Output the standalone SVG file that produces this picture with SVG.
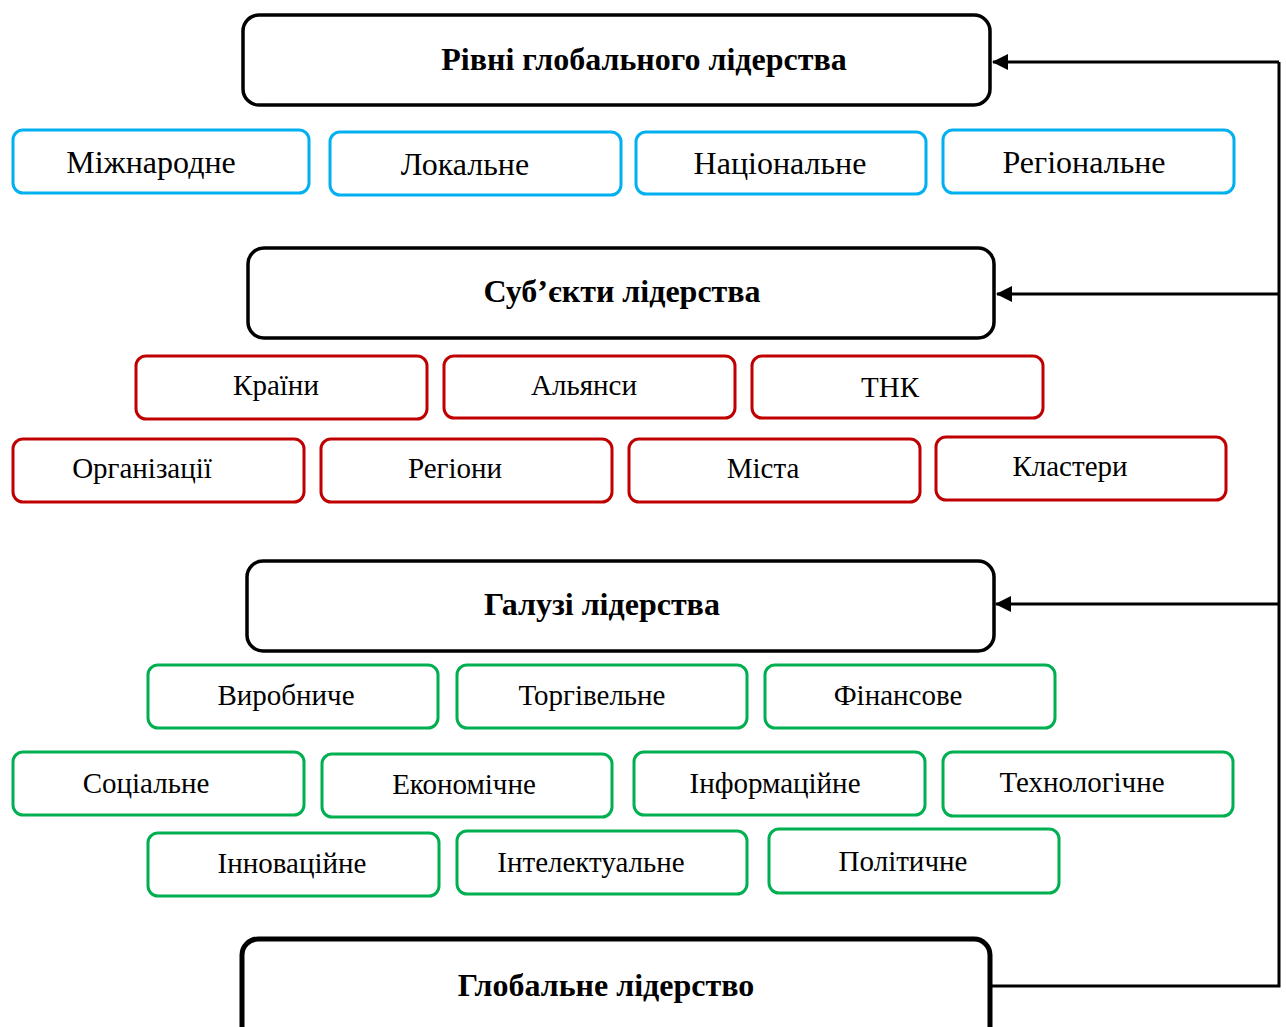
<svg xmlns="http://www.w3.org/2000/svg" width="1286" height="1027" viewBox="0 0 1286 1027">
<defs>
<style>
.hd{fill:#fff;stroke:#000;stroke-width:3.5}
.bl{fill:#fff;stroke:#00B0F0;stroke-width:3}
.rd{fill:#fff;stroke:#C00000;stroke-width:3}
.gr{fill:#fff;stroke:#00B050;stroke-width:3}
text{font-family:"Liberation Serif","Times New Roman",serif;fill:#000;text-anchor:middle}
.ht{font-size:32px;font-weight:bold}
.bt{font-size:32px}
.st{font-size:29px}
.cn{fill:none;stroke:#000;stroke-width:3}
</style>
<marker id="ah" viewBox="0 0 16 16" refX="15" refY="8" markerWidth="16" markerHeight="16" markerUnits="userSpaceOnUse" orient="auto">
<path d="M0,0 L16,8 L0,16 Z" fill="#000"/>
</marker>
</defs>
<rect width="1286" height="1027" fill="#fff"/>
<g id="connectors">
<polyline class="cn" points="990,986 1279,986 1279,62"/>
<line class="cn" x1="1279" y1="62" x2="993" y2="62" marker-end="url(#ah)"/>
<line class="cn" x1="1279" y1="294" x2="997" y2="294" marker-end="url(#ah)"/>
<line class="cn" x1="1279" y1="604" x2="996" y2="604" marker-end="url(#ah)"/>
</g>
<g id="levels"><rect class="hd" x="243" y="15" width="747" height="90" rx="16"/><text class="ht" x="644" y="70">Рівні глобального лідерства</text></g>
<g id="l1"><rect class="bl" x="13" y="130" width="296" height="63" rx="10"/><text class="bt" x="151" y="173">Міжнародне</text></g>
<g id="l2"><rect class="bl" x="330" y="132" width="291" height="63" rx="10"/><text class="bt" x="465" y="175">Локальне</text></g>
<g id="l3"><rect class="bl" x="636" y="132" width="290" height="62" rx="10"/><text class="bt" x="780" y="174">Національне</text></g>
<g id="l4"><rect class="bl" x="943" y="130" width="291" height="63" rx="10"/><text class="bt" x="1084" y="173">Регіональне</text></g>
<g id="subjects"><rect class="hd" x="248" y="248" width="746" height="90" rx="16"/><text class="ht" x="622" y="302">Суб’єкти лідерства</text></g>
<g id="s1"><rect class="rd" x="136" y="356" width="291" height="63" rx="10"/><text class="st" x="276" y="395">Країни</text></g>
<g id="s2"><rect class="rd" x="444" y="356" width="291" height="62" rx="10"/><text class="st" x="584" y="395">Альянси</text></g>
<g id="s3"><rect class="rd" x="752" y="356" width="291" height="62" rx="10"/><text class="st" x="890" y="397">ТНК</text></g>
<g id="s4"><rect class="rd" x="13" y="439" width="291" height="63" rx="10"/><text class="st" x="142" y="478">Організації</text></g>
<g id="s5"><rect class="rd" x="321" y="439" width="291" height="63" rx="10"/><text class="st" x="455" y="478">Регіони</text></g>
<g id="s6"><rect class="rd" x="629" y="439" width="291" height="63" rx="10"/><text class="st" x="763" y="478">Міста</text></g>
<g id="s7"><rect class="rd" x="936" y="437" width="290" height="63" rx="10"/><text class="st" x="1070" y="476">Кластери</text></g>
<g id="fields"><rect class="hd" x="247" y="561" width="747" height="90" rx="16"/><text class="ht" x="602" y="615">Галузі лідерства</text></g>
<g id="f1"><rect class="gr" x="148" y="665" width="290" height="63" rx="10"/><text class="st" x="286" y="705">Виробниче</text></g>
<g id="f2"><rect class="gr" x="457" y="665" width="290" height="63" rx="10"/><text class="st" x="592" y="705">Торгівельне</text></g>
<g id="f3"><rect class="gr" x="765" y="665" width="290" height="63" rx="10"/><text class="st" x="898" y="705">Фінансове</text></g>
<g id="f4"><rect class="gr" x="13" y="752" width="291" height="63" rx="10"/><text class="st" x="146" y="793">Соціальне</text></g>
<g id="f5"><rect class="gr" x="322" y="754" width="290" height="63" rx="10"/><text class="st" x="464" y="794">Економічне</text></g>
<g id="f6"><rect class="gr" x="634" y="752" width="291" height="63" rx="10"/><text class="st" x="775" y="793">Інформаційне</text></g>
<g id="f7"><rect class="gr" x="943" y="752" width="290" height="64" rx="10"/><text class="st" x="1082" y="792">Технологічне</text></g>
<g id="f8"><rect class="gr" x="148" y="833" width="291" height="63" rx="10"/><text class="st" x="292" y="873">Інноваційне</text></g>
<g id="f9"><rect class="gr" x="457" y="831" width="290" height="63" rx="10"/><text class="st" x="591" y="872">Інтелектуальне</text></g>
<g id="f10"><rect class="gr" x="769" y="829" width="290" height="64" rx="10"/><text class="st" x="903" y="871">Політичне</text></g>
<g id="global"><rect class="hd" x="242" y="939" width="748" height="110" rx="16" style="stroke-width:5"/><text class="ht" x="606" y="996">Глобальне лідерство</text></g>
</svg>
